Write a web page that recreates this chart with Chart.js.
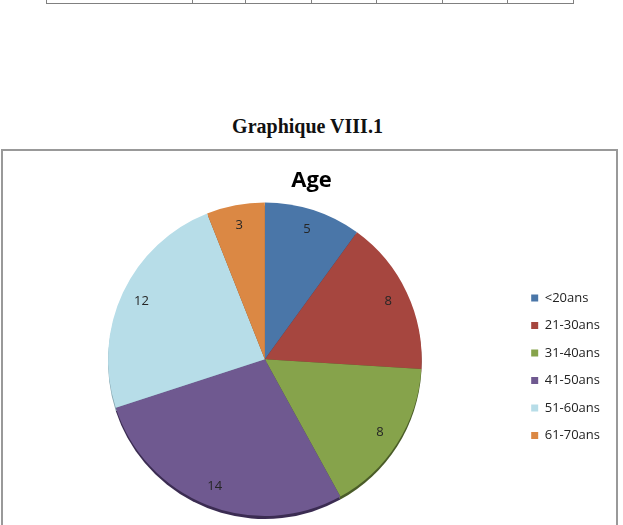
<!DOCTYPE html>
<html>
<head>
<meta charset="utf-8">
<script src="https://cdn.jsdelivr.net/npm/chart.js@4.4.0/dist/chart.umd.min.js"></script>
<style>
    html, body { margin: 0; padding: 0; background: #fff; }
    body { width: 623px; height: 525px; position: relative; overflow: hidden; }
    .tbl { position: absolute; top: 0; left: 46px; width: 526px; height: 3px; border: 1px solid #808080; border-top: none; }
    .tbl span { position: absolute; top: 0; width: 1px; height: 4px; background: #808080; }
    .titre { position: absolute; top: 115px; left: 0; width: 615px; text-align: center;
        font-family: "Liberation Serif", "Times New Roman", serif; font-weight: bold; font-size: 20px; color: #111; }
    .cadre { position: absolute; left: 1px; top: 149px; width: 613px; height: 400px; border: 2px solid #999; }
    #ageChart { position: absolute; left: 0; top: 0; }
</style>
</head>
<body>
<div class="tbl" id="tbl"></div>
<div class="titre">Graphique VIII.1</div>
<div class="cadre">
    <canvas id="ageChart" width="613" height="374"></canvas>
</div>
<script>
    // colonnes du tableau au dessus (bord seulement)
    var colonnes = [192, 245, 311, 376, 442, 507];
    var tbl = document.getElementById("tbl");
    for (var i = 0; i < colonnes.length; i++) {
        var s = document.createElement("span");
        s.style.left = (colonnes[i] - 47) + "px";
        tbl.appendChild(s);
    }

    var trancheAge = ["<20ans", "21-30ans", "31-40ans", "41-50ans", "51-60ans", "61-70ans"];
    var effectif = [5, 8, 8, 14, 12, 3];
    var couleurs = ["#4A76A8", "#A6463F", "#86A34B", "#6F5990", "#B7DDE8", "#DB8844"];
    var ombres = ["#2c4566", "#5e2622", "#4a5c28", "#3b2c52", "#7fa0aa", "#7d4b22"];

    // ombre 3D sous les parts
    var ombrePlugin = {
        id: "ombre",
        beforeDatasetsDraw: function (chart) {
            var ctx = chart.ctx;
            var arcs = chart.getDatasetMeta(0).data;
            ctx.save();
            for (var i = 0; i < arcs.length; i++) {
                var a = arcs[i];
                ctx.beginPath();
                ctx.moveTo(a.x, a.y + 3);
                ctx.arc(a.x, a.y + 3, a.outerRadius, a.startAngle, a.endAngle);
                ctx.closePath();
                ctx.fillStyle = ombres[i];
                ctx.fill();
            }
            ctx.restore();
        }
    };

    // valeurs dans les parts
    var etiquettePlugin = {
        id: "etiquettes",
        afterDatasetsDraw: function (chart) {
            var ctx = chart.ctx;
            var arcs = chart.getDatasetMeta(0).data;
            ctx.save();
            ctx.font = "13px 'Open Sans', 'Noto Sans', sans-serif";
            ctx.fillStyle = "#262626";
            ctx.textAlign = "center";
            ctx.textBaseline = "middle";
            for (var i = 0; i < arcs.length; i++) {
                var a = arcs[i];
                var mid = (a.startAngle + a.endAngle) / 2;
                var r = a.outerRadius * 0.87;
                ctx.fillText(effectif[i], a.x + Math.cos(mid) * r, a.y + Math.sin(mid) * r);
            }
            ctx.restore();
        }
    };

    var ctxA = document.getElementById("ageChart").getContext("2d");
    new Chart(ctxA, {
        type: "pie",
        data: {
            labels: trancheAge,
            datasets: [{
                data: effectif,
                backgroundColor: couleurs,
                borderWidth: 0
            }]
        },
        options: {
            responsive: false,
            animation: false,
            layout: { padding: { left: 10, right: 6, top: 0, bottom: 9 } },
            plugins: {
                title: {
                    display: true,
                    text: "Age",
                    color: "#000",
                    font: { family: "'Open Sans', 'Noto Sans', sans-serif", size: 22, weight: "bold" },
                    padding: { top: 17, bottom: 8 }
                },
                legend: {
                    position: "right",
                    title: {
                        display: true,
                        text: " ",
                        font: { size: 12 },
                        padding: { top: 0, bottom: 52 }
                    },
                    labels: {
                        boxWidth: 7,
                        boxHeight: 7,
                        padding: 14.5,
                        color: "#222",
                        font: { family: "'Open Sans', 'Noto Sans', sans-serif", size: 13 }
                    }
                },
                tooltip: { enabled: false }
            }
        },
        plugins: [ombrePlugin, etiquettePlugin]
    });
</script>
</body>
</html>
